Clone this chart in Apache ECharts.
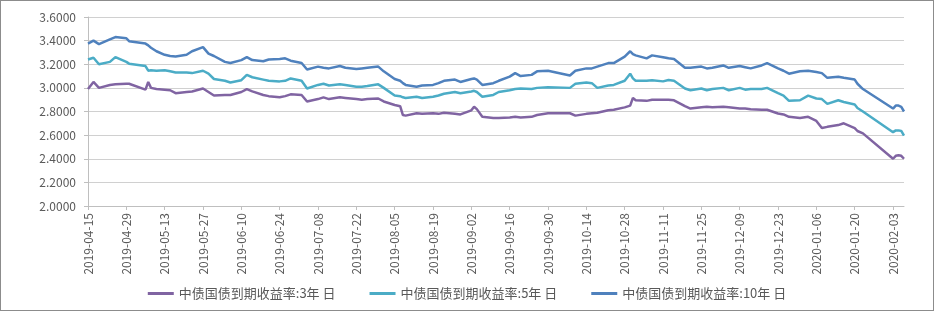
<!doctype html>
<html>
<head>
<meta charset="UTF-8">
<script src="https://cdn.jsdelivr.net/npm/echarts@6/dist/echarts.min.js"></script>
<style>
  html, body { margin: 0; padding: 0; background: #fff; }
  #yieldpic { width: 934px; height: 311px; box-sizing: border-box; border: 1px solid #8c8c8c; background: #fff; }
</style>
</head>
<body>
<div id="yieldpic"></div>
<script>
var dates = [
  '2019-04-15','2019-04-17','2019-04-19','2019-04-23','2019-04-25','2019-04-29','2019-04-30',
  '2019-05-06','2019-05-07','2019-05-08','2019-05-10','2019-05-13','2019-05-15','2019-05-17',
  '2019-05-21','2019-05-23','2019-05-27','2019-05-29','2019-05-31','2019-06-04','2019-06-06',
  '2019-06-10','2019-06-12','2019-06-14','2019-06-18','2019-06-20','2019-06-24','2019-06-26',
  '2019-06-28','2019-07-02','2019-07-04','2019-07-08','2019-07-10','2019-07-12','2019-07-16',
  '2019-07-18','2019-07-22','2019-07-24','2019-07-26','2019-07-30','2019-08-01','2019-08-05',
  '2019-08-07','2019-08-08','2019-08-09','2019-08-13','2019-08-15','2019-08-19','2019-08-21',
  '2019-08-23','2019-08-27','2019-08-29','2019-09-02','2019-09-03','2019-09-04','2019-09-06',
  '2019-09-10','2019-09-12','2019-09-16','2019-09-18','2019-09-20','2019-09-24','2019-09-26',
  '2019-09-30','2019-10-08','2019-10-10','2019-10-14','2019-10-16','2019-10-18','2019-10-22',
  '2019-10-24','2019-10-28','2019-10-30','2019-10-31','2019-11-01','2019-11-05','2019-11-07',
  '2019-11-11','2019-11-13','2019-11-15','2019-11-19','2019-11-21','2019-11-25','2019-11-27',
  '2019-11-29','2019-12-03','2019-12-05','2019-12-09','2019-12-11','2019-12-13','2019-12-17',
  '2019-12-19','2019-12-23','2019-12-25','2019-12-27','2019-12-31','2020-01-03','2020-01-06',
  '2020-01-08','2020-01-10','2020-01-14','2020-01-16','2020-01-20','2020-01-21','2020-01-23',
  '2020-02-03','2020-02-04','2020-02-05','2020-02-06','2020-02-07'
];
var y3 = [
  2.99, 3.05, 3.00, 3.025, 3.03, 3.035, 3.035,
  2.985, 3.05, 3.00, 2.99, 2.985, 2.98, 2.955,
  2.965, 2.97, 2.995, 2.965, 2.935, 2.94, 2.94,
  2.965, 2.99, 2.97, 2.94, 2.93, 2.92, 2.93,
  2.945, 2.94, 2.885, 2.905, 2.92, 2.905, 2.92,
  2.915, 2.905, 2.90, 2.905, 2.91, 2.885, 2.855,
  2.845, 2.77, 2.765, 2.785, 2.78, 2.785, 2.78,
  2.79, 2.78, 2.775, 2.81, 2.84, 2.82, 2.755,
  2.745, 2.745, 2.75, 2.755, 2.75, 2.755, 2.77,
  2.785, 2.785, 2.765, 2.78, 2.785, 2.79, 2.81,
  2.815, 2.835, 2.85, 2.915, 2.895, 2.89, 2.90,
  2.90, 2.90, 2.895, 2.845, 2.825, 2.835, 2.84,
  2.835, 2.84, 2.835, 2.825, 2.825, 2.82, 2.815,
  2.815, 2.783, 2.775, 2.755, 2.745, 2.755, 2.72,
  2.66, 2.67, 2.685, 2.70, 2.66, 2.635, 2.615,
  2.40, 2.425, 2.43, 2.425, 2.40
];
var y5 = [
  3.24, 3.255, 3.20, 3.22, 3.26, 3.22, 3.205,
  3.185, 3.145, 3.15, 3.145, 3.15, 3.14, 3.13,
  3.13, 3.125, 3.145, 3.12, 3.075, 3.06, 3.045,
  3.065, 3.11, 3.09, 3.07, 3.06, 3.055, 3.06,
  3.08, 3.06, 2.995, 3.025, 3.035, 3.02, 3.03,
  3.025, 3.01, 3.01, 3.015, 3.03, 3.00, 2.935,
  2.93, 2.92, 2.915, 2.925, 2.915, 2.925, 2.935,
  2.95, 2.965, 2.955, 2.97, 2.975, 2.965, 2.925,
  2.94, 2.965, 2.98, 2.99, 2.995, 2.99, 3.00,
  3.005, 3.00, 3.035, 3.045, 3.04, 3.00, 3.02,
  3.025, 3.06, 3.12, 3.08, 3.06, 3.06, 3.065,
  3.055, 3.067, 3.06, 2.995, 2.98, 2.995, 2.98,
  2.99, 3.00, 2.98, 3.00, 2.985, 2.99, 2.99,
  3.00, 2.955, 2.935, 2.89, 2.895, 2.935, 2.91,
  2.905, 2.865, 2.895, 2.88, 2.86, 2.83, 2.80,
  2.625, 2.64, 2.64, 2.635, 2.595
];
var y10 = [
  3.375, 3.40, 3.37, 3.41, 3.43, 3.42, 3.395,
  3.375, 3.36, 3.34, 3.31, 3.28, 3.27, 3.265,
  3.28, 3.31, 3.345, 3.29, 3.27, 3.22, 3.21,
  3.235, 3.26, 3.235, 3.225, 3.24, 3.245, 3.25,
  3.23, 3.21, 3.155, 3.18, 3.17, 3.165, 3.185,
  3.17, 3.16, 3.165, 3.17, 3.18, 3.14, 3.075,
  3.06, 3.04, 3.025, 3.01, 3.02, 3.025, 3.04,
  3.06, 3.07, 3.05, 3.075, 3.08, 3.07, 3.025,
  3.04, 3.06, 3.095, 3.125, 3.10, 3.11, 3.14,
  3.145, 3.105, 3.145, 3.165, 3.165, 3.18, 3.21,
  3.21, 3.265, 3.31, 3.285, 3.275, 3.25, 3.275,
  3.26, 3.25, 3.245, 3.17, 3.17, 3.18, 3.165,
  3.17, 3.19, 3.17, 3.185, 3.175, 3.165, 3.19,
  3.21, 3.165, 3.145, 3.12, 3.14, 3.145, 3.135,
  3.125, 3.085, 3.095, 3.085, 3.07, 3.035, 2.99,
  2.825, 2.85, 2.85, 2.84, 2.80
];
var names = ['中债国债到期收益率:3年 日', '中债国债到期收益率:5年 日', '中债国债到期收益率:10年 日'];
var colors = ['#8064a2', '#4bacc6', '#4f81bd'];

var base = Date.UTC(2019, 3, 15);
function pad(n) { return n < 10 ? '0' + n : '' + n; }
function toDay(s) {
  var p = s.split('-');
  return Math.round((Date.UTC(+p[0], +p[1] - 1, +p[2]) - base) / 86400000);
}
function toDate(n) {
  var d = new Date(base + n * 86400000);
  return d.getUTCFullYear() + '-' + pad(d.getUTCMonth() + 1) + '-' + pad(d.getUTCDate());
}
function pairs(vals) {
  return dates.map(function (s, i) { return [toDay(s), vals[i]]; });
}

var font = "'Noto Sans CJK SC', 'Noto Sans', sans-serif";
var myChart = echarts.init(document.getElementById('yieldpic'));
var option = {
  animation: false,
  color: colors,
  textStyle: { fontFamily: font },
  grid: { left: 87, right: 29, top: 16, bottom: 104 },
  legend: {
    top: 281,
    left: 'center',
    itemGap: 34,
    itemWidth: 26,
    itemHeight: 3,
    icon: 'rect',
    textStyle: { fontSize: 13, color: '#595959', fontFamily: font },
    data: names
  },
  xAxis: {
    type: 'value',
    min: 0,
    max: toDay(dates[dates.length - 1]),
    interval: 14,
    axisLine: { lineStyle: { color: '#bfbfbf' } },
    axisTick: { show: true, length: 4, lineStyle: { color: '#bfbfbf' } },
    splitLine: { show: false },
    axisLabel: {
      rotate: 90,
      margin: 7,
      fontSize: 12,
      color: '#595959',
      showMaxLabel: false,
      formatter: function (v) { return v % 14 === 0 ? toDate(v) : ''; }
    }
  },
  yAxis: {
    type: 'value',
    min: 2.0,
    max: 3.6,
    interval: 0.2,
    axisLine: { show: true, lineStyle: { color: '#bfbfbf' } },
    axisTick: { show: true, length: 4, lineStyle: { color: '#bfbfbf' } },
    splitLine: { lineStyle: { color: '#d0d0d0' } },
    axisLabel: {
      fontSize: 12,
      color: '#595959',
      margin: 12,
      formatter: function (v) { return v.toFixed(4); }
    }
  },
  series: [
    { name: names[0], type: 'line', showSymbol: false, lineStyle: { width: 2.5 }, data: pairs(y3) },
    { name: names[1], type: 'line', showSymbol: false, lineStyle: { width: 2.5 }, data: pairs(y5) },
    { name: names[2], type: 'line', showSymbol: false, lineStyle: { width: 2.5 }, data: pairs(y10) }
  ]
};
myChart.setOption(option);
</script>
</body>
</html>
